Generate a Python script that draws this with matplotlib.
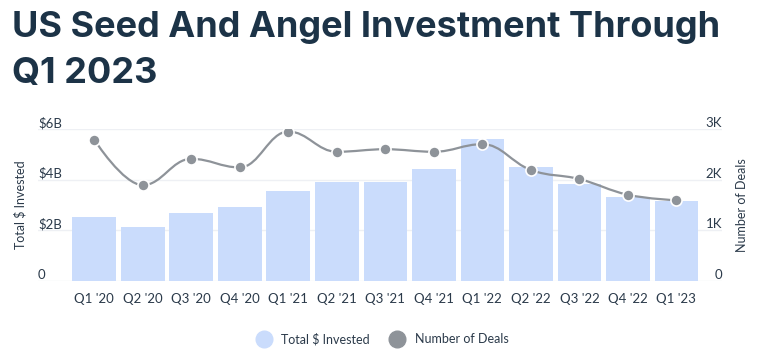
import matplotlib
matplotlib.use("Agg")
import matplotlib.pyplot as plt
from matplotlib.path import Path
from matplotlib.patches import PathPatch
from matplotlib.lines import Line2D
import numpy as np

# ---------------------------------------------------------------------------
# Data
# ---------------------------------------------------------------------------
quarters = ["Q1 '20", "Q2 '20", "Q3 '20", "Q4 '20", "Q1 '21", "Q2 '21", "Q3 '21",
            "Q4 '21", "Q1 '22", "Q2 '22", "Q3 '22", "Q4 '22", "Q1 '23"]
invested_b = [2.53, 2.14, 2.69, 2.93, 3.55, 3.90, 3.90, 4.42, 5.62, 4.50, 3.82, 3.30, 3.14]
deals_k = [2.79, 1.89, 2.41, 2.24, 2.95, 2.55, 2.60, 2.55, 2.70, 2.19, 2.01, 1.70, 1.59]

left_ticks = [0, 2, 4, 6]
left_labels = ["0", "$2B", "$4B", "$6B"]
right_ticks = [0, 1, 2, 3]
right_labels = ["0", "1K", "2K", "3K"]

NAVY = "#1c3347"
TEXT = "#2b3a4a"
BAR = "#cadcfc"
LINE = "#8e9399"
GRID = "#eef0f4"
FONT = ["Lato", "DejaVu Sans"]

plt.rcParams["font.family"] = FONT


def spline_path(xs, ys, smoothing=1.5):
    """Highcharts-style spline through the points, as a bezier path."""
    denom = smoothing + 1
    n = len(xs)
    verts = [(xs[0], ys[0])]
    codes = [Path.MOVETO]
    right = [(xs[i], ys[i]) for i in range(n)]
    left = [(xs[i], ys[i]) for i in range(n)]
    for i in range(1, n - 1):
        px, py = xs[i], ys[i]
        lx, ly = xs[i - 1], ys[i - 1]
        nx, ny = xs[i + 1], ys[i + 1]
        lcx = (smoothing * px + lx) / denom
        lcy = (smoothing * py + ly) / denom
        rcx = (smoothing * px + nx) / denom
        rcy = (smoothing * py + ny) / denom
        corr = 0
        if rcx != lcx:
            corr = (rcy - lcy) * (rcx - px) / (rcx - lcx) + py - rcy
        lcy += corr
        rcy += corr
        if lcy > ly and lcy > py:
            lcy = max(ly, py)
            rcy = 2 * py - lcy
        elif lcy < ly and lcy < py:
            lcy = min(ly, py)
            rcy = 2 * py - lcy
        if rcy > ny and rcy > py:
            rcy = max(ny, py)
            lcy = 2 * py - rcy
        elif rcy < ny and rcy < py:
            rcy = min(ny, py)
            lcy = 2 * py - rcy
        left[i] = (lcx, lcy)
        right[i] = (rcx, rcy)
    for i in range(1, n):
        verts += [right[i - 1], left[i], (xs[i], ys[i])]
        codes += [Path.CURVE4] * 3
    return Path(verts, codes)


fig = plt.figure(figsize=(7.6, 3.63), dpi=100)
ax = fig.add_axes([0.05, 0.2267, 0.90, 0.4179])
ax2 = ax.twinx()

x = np.arange(len(quarters))
ax.bar(x, invested_b, width=0.9, color=BAR, zorder=2)
ax.set_xlim(-1.16, 12.94)
ax.set_ylim(0, 6)
ax2.set_ylim(0, 3)

for a in (ax, ax2):
    for s in a.spines.values():
        s.set_visible(False)
    a.set_yticks([])
    a.tick_params(axis="both", length=0)

for t in left_ticks:
    ax.axhline(t, color=GRID, lw=1, zorder=0)

ax.set_xticks(x)
ax.set_xticklabels(quarters, fontsize=9.5, color=TEXT)
ax.tick_params(axis="x", pad=9)

# tick labels sit above the gridlines
for t, lab in zip(left_ticks, left_labels):
    ax.text(0.0, t, lab, transform=ax.get_yaxis_transform(), ha="left", va="bottom",
            fontsize=9.5, color=TEXT)
for t, lab in zip(right_ticks, right_labels):
    ax2.text(1.0, t, lab, transform=ax2.get_yaxis_transform(), ha="right", va="bottom",
             fontsize=9.5, color=TEXT)

fig.text(0.026, 0.435, "Total $ Invested", rotation=90, ha="center", va="center",
         fontsize=9, color=TEXT)
fig.text(0.976, 0.435, "Number of Deals", rotation=90, ha="center", va="center",
         fontsize=9, color=TEXT)

# smooth deals line
path = spline_path(list(x.astype(float)), deals_k)
ax2.add_patch(PathPatch(path, facecolor="none", edgecolor=LINE, lw=1.6, zorder=3))
ax2.plot(x, deals_k, ls="none", marker="o", ms=8, mfc=LINE, mec="white", mew=1.2, zorder=4)

# title, two lines placed by baseline
title_font = ["Inter", "DejaVu Sans"]
fig.text(0.016, 0.898, "US Seed And Angel Investment Through", ha="left", va="baseline",
         fontsize=26, fontweight="bold", color=NAVY, family=title_font)
fig.text(0.016, 0.771, "Q1 2023", ha="left", va="baseline",
         fontsize=26, fontweight="bold", color=NAVY, family=title_font)

handles = [Line2D([], [], ls="none", marker="o", ms=12, mfc=BAR, mec=BAR),
           Line2D([], [], ls="none", marker="o", ms=12, mfc=LINE, mec=LINE)]
fig.legend(handles, ["Total $ Invested", "Number of Deals"], loc="center",
           bbox_to_anchor=(0.5, 0.066), ncol=2, frameon=False, fontsize=9,
           labelcolor=TEXT, handletextpad=0.4, columnspacing=1.2)

fig.savefig("out.png", dpi=100)
